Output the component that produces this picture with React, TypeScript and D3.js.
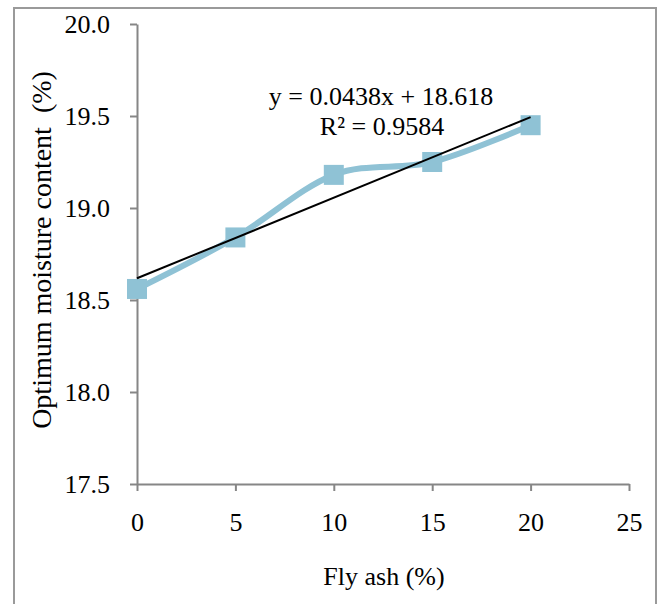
import React, { useRef, useEffect } from 'react';
import * as d3 from 'd3';

const flyAsh = [0, 5, 10, 15, 20];
const moisture = [18.56, 18.84, 19.18, 19.25, 19.45];
const xTicks = [0, 5, 10, 15, 20, 25];
const yTicks = [17.5, 18.0, 18.5, 19.0, 19.5, 20.0];
const slope = 0.0438;
const intercept = 18.618;
const equationText = 'y = 0.0438x + 18.618';
const r2Text = 'R² = 0.9584';

export default function App() {
  const ref = useRef<SVGSVGElement>(null);

  useEffect(() => {
    const width = 662;
    const height = 604;
    const left = 137;
    const right = 629;
    const top = 24;
    const bottom = 484;
    const font = '"Liberation Serif", "Times New Roman", serif';
    const axisColor = '#868686';
    const seriesColor = '#8fc2d5';

    const svg = d3.select(ref.current);
    svg.selectAll('*').remove();

    const x = d3.scaleLinear().domain([0, 25]).range([left, right]);
    const y = d3.scaleLinear().domain([17.5, 20]).range([bottom, top]);

    svg.append('rect')
      .attr('width', width).attr('height', height).attr('fill', 'white');

    // outer frame
    svg.append('rect')
      .attr('x', 14).attr('y', 8)
      .attr('width', 642).attr('height', 640)
      .attr('fill', 'none').attr('stroke', '#9a9a9a').attr('stroke-width', 2);

    // y axis
    const yAxis = svg.append('g')
      .attr('transform', `translate(${left},0)`)
      .call(d3.axisLeft(y).tickValues(yTicks).tickFormat(d3.format('.1f')).tickSize(7).tickPadding(20).tickSizeOuter(0));
    yAxis.select('.domain').attr('stroke', axisColor).attr('stroke-width', 2);
    yAxis.selectAll('.tick line').attr('stroke', axisColor).attr('stroke-width', 2);
    yAxis.selectAll('.tick text')
      .attr('font-family', font).attr('font-size', 26).attr('fill', '#000');

    // x axis
    const xAxis = svg.append('g')
      .attr('transform', `translate(0,${bottom})`)
      .call(d3.axisBottom(x).tickValues(xTicks).tickSize(7).tickPadding(22).tickSizeOuter(0));
    xAxis.select('.domain').attr('stroke', axisColor).attr('stroke-width', 2);
    xAxis.selectAll('.tick line').attr('stroke', axisColor).attr('stroke-width', 2);
    xAxis.selectAll('.tick text')
      .attr('font-family', font).attr('font-size', 26).attr('fill', '#000');

    // series line (smoothed)
    const pts = flyAsh.map((v, i) => [v, moisture[i]] as [number, number]);
    const line = d3.line<[number, number]>()
      .x(d => x(d[0]))
      .y(d => y(d[1]))
      .curve(d3.curveCardinal.tension(0));

    svg.append('path')
      .attr('d', line(pts))
      .attr('fill', 'none')
      .attr('stroke', seriesColor)
      .attr('stroke-width', 6)
      .attr('stroke-linejoin', 'round');

    svg.selectAll('rect.marker')
      .data(pts)
      .join('rect')
      .attr('class', 'marker')
      .attr('x', d => x(d[0]) - 10)
      .attr('y', d => y(d[1]) - 10)
      .attr('width', 20).attr('height', 20)
      .attr('fill', seriesColor);

    // linear trendline
    svg.append('line')
      .attr('x1', x(0)).attr('y1', y(intercept))
      .attr('x2', x(20)).attr('y2', y(intercept + slope * 20))
      .attr('stroke', '#000').attr('stroke-width', 2);

    svg.append('text')
      .attr('x', 381).attr('y', 105)
      .attr('text-anchor', 'middle')
      .attr('font-family', font).attr('font-size', 26)
      .text(equationText);
    svg.append('text')
      .attr('x', 382).attr('y', 135)
      .attr('text-anchor', 'middle')
      .attr('font-family', font).attr('font-size', 26)
      .text(r2Text);

    // axis titles
    svg.append('text')
      .attr('x', (left + right) / 2 + 1).attr('y', 585)
      .attr('text-anchor', 'middle')
      .attr('font-family', font).attr('font-size', 26)
      .text('Fly ash (%)');
    svg.append('text')
      .attr('transform', `translate(51,${250}) rotate(-90)`)
      .attr('text-anchor', 'middle')
      .attr('font-family', font).attr('font-size', 28)
      .attr('xml:space', 'preserve')
      .style('white-space', 'pre')
      .text('Optimum moisture content  (%)');
  }, []);

  return (
    <svg ref={ref} width={662} height={604}
      style={{ position: 'absolute', left: 0, top: 0, display: 'block' }} />
  );
}
